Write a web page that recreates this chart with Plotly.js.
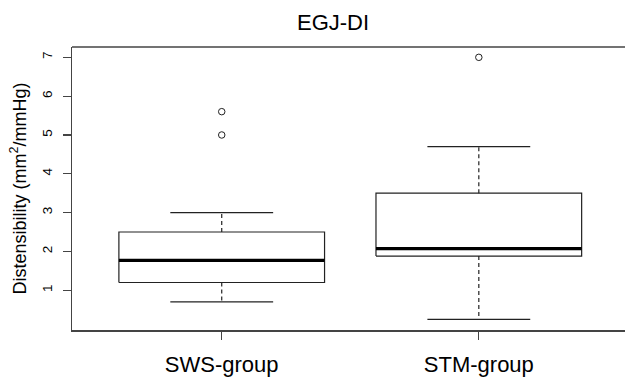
<!DOCTYPE html>
<html>
<head>
<meta charset="utf-8">
<script src="https://cdn.plot.ly/plotly-3.0.1.min.js"></script>
<style>html,body{margin:0;padding:0;background:#fff;overflow:hidden}</style>
</head>
<body>
<div id="chart" style="width:625px;height:379px"></div>
<script>
// ---- data ----
const categories    = ['SWS-group', 'STM-group'];
const lowerWhisker  = [0.70, 0.25];
const q1            = [1.20, 1.88];
const medians       = [1.77, 2.07];
const q3            = [2.50, 3.50];
const upperWhisker  = [3.00, 4.70];
const outliersSWS   = [5.6, 5.0];
const outliersSTM   = [7.0];
const yTicks        = [1, 2, 3, 4, 5, 6, 7];

const outliers = [outliersSWS, outliersSTM];
const boxHalf = 0.4, capHalf = 0.2;
const ink = '#222';
const traces = [];
categories.forEach((c, i) => {
  const x = i + 1;
  // box
  traces.push({type:'scatter', mode:'lines', hoverinfo:'skip', showlegend:false,
    x:[x-boxHalf, x+boxHalf, x+boxHalf, x-boxHalf, x-boxHalf],
    y:[q1[i], q1[i], q3[i], q3[i], q1[i]],
    line:{color:ink, width:1.2}});
  // median
  traces.push({type:'scatter', mode:'lines', hoverinfo:'skip', showlegend:false,
    x:[x-boxHalf, x+boxHalf], y:[medians[i], medians[i]],
    line:{color:'#000', width:3.2}});
  // whiskers (dashed)
  traces.push({type:'scatter', mode:'lines', hoverinfo:'skip', showlegend:false,
    x:[x, x, null, x, x], y:[q3[i], upperWhisker[i], null, q1[i], lowerWhisker[i]],
    line:{color:ink, width:1.2, dash:'4px,3px'}});
  // caps
  traces.push({type:'scatter', mode:'lines', hoverinfo:'skip', showlegend:false,
    x:[x-capHalf, x+capHalf, null, x-capHalf, x+capHalf],
    y:[upperWhisker[i], upperWhisker[i], null, lowerWhisker[i], lowerWhisker[i]],
    line:{color:ink, width:1.2}});
  // outliers
  traces.push({type:'scatter', mode:'markers', hoverinfo:'skip', showlegend:false,
    x:outliers[i].map(() => x), y:outliers[i],
    marker:{symbol:'circle-open', size:6.5, color:ink, line:{width:1, color:ink}}});
});

const layout = {
  width:625, height:379,
  margin:{l:72, r:0, t:47, b:49, pad:0},
  paper_bgcolor:'#fff', plot_bgcolor:'#fff',
  font:{family:'Liberation Sans, Arial, sans-serif', color:'#000'},
  title:{text:'EGJ-DI', font:{size:22, color:'#000'}, x:0.472, xanchor:'center',
         xref:'paper', y:0.942, yref:'container', yanchor:'middle'},
  xaxis:{range:[0.4176, 2.5686], tickvals:[1,2], ticktext:categories,
         showgrid:false, zeroline:false, showline:true, linecolor:'#444', linewidth:1.5,
         ticks:'outside', ticklen:8, tickcolor:'#444', tickwidth:1.2,
         tickfont:{size:22, color:'#000'}, ticklabelstandoff:6, fixedrange:true},
  yaxis:{range:[-0.024, 7.266], tickvals:yTicks, ticktext:yTicks.map(String),
         showgrid:false, zeroline:false, showline:true, linecolor:'#444', linewidth:1.5,
         ticks:'outside', ticklen:8, tickcolor:'#444', tickwidth:1.2,
         tickangle:-90, tickfont:{size:13.5, color:'#000'}, ticklabelstandoff:5,
         title:{text:'Distensibility (mm<sup>2</sup>/mmHg)', font:{size:18, color:'#000'}, standoff:9},
         fixedrange:true},
  shapes:[{type:'line', xref:'paper', yref:'paper', x0:0, x1:1, y0:1, y1:1,
           line:{color:'#444', width:1.5}}]
};

Plotly.newPlot('chart', traces, layout, {displayModeBar:false, staticPlot:true});
</script>
</body>
</html>
